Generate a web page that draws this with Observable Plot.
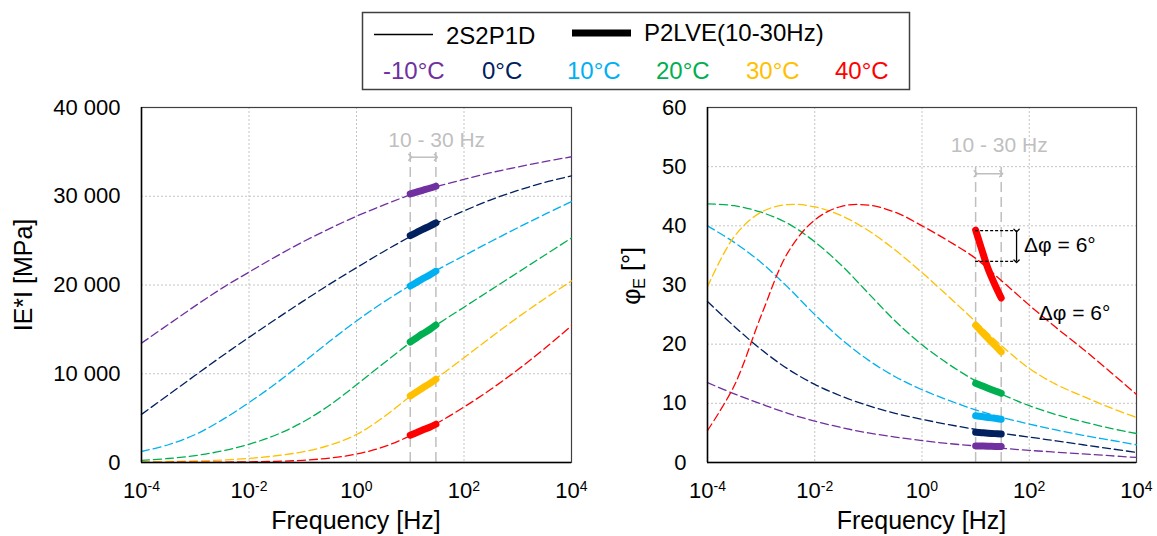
<!DOCTYPE html>
<html><head><meta charset="utf-8">
<script src="https://cdn.jsdelivr.net/npm/d3@7"></script>
<script src="https://cdn.jsdelivr.net/npm/@observablehq/plot@0.6"></script>
<style>
html,body{margin:0;padding:0;background:#fff;}
#wrap{position:relative;width:1157px;height:536px;overflow:hidden;font-family:'Liberation Sans',Arial,sans-serif;}
#wrap > svg{position:absolute;top:0;}
</style></head><body><div id="wrap"></div>
<script>
// ---------- data ----------
const temps  = ["-10°C", "0°C", "10°C", "20°C", "30°C", "40°C"];
const colors = ["#7030A0", "#002060", "#00B0F0", "#00B050", "#FFC000", "#FF0000"];

// 2S2P1D model curves, log10(frequency [Hz])
const logF = [-4, -3.5, -3, -2.5, -2, -1.5, -1, -0.5, 0, 0.5, 1, 1.5, 2, 2.5, 3, 3.5, 4];
// |E*| [MPa]
const modM10 = [13450, 15550, 17650, 19650, 21450, 23200, 24850, 26350, 27750, 29000, 30150, 31100, 31900, 32650, 33300, 33900, 34450];
const mod0   = [5420, 7620, 9820, 12000, 14100, 16150, 18150, 20100, 21950, 23750, 25450, 27000, 28350, 29600, 30650, 31550, 32300];
const mod10  = [1240, 2000, 3150, 4800, 6750, 8900, 11250, 13650, 15950, 18050, 19950, 21700, 23300, 24900, 26450, 27950, 29400];
const mod20  = [250, 450, 780, 1300, 2050, 3100, 4550, 6450, 8750, 11150, 13500, 15550, 17500, 19450, 21400, 23350, 25300];
const mod30  = [70, 110, 170, 280, 460, 760, 1200, 1950, 3150, 5100, 7450, 9550, 11800, 14100, 16350, 18450, 20450];
const mod40  = [20, 25, 35, 50, 75, 130, 250, 500, 950, 1750, 3000, 4450, 6250, 8250, 10450, 12850, 15400];
// phase angle [°]
const phM10 = [13.5, 11.6, 9.9, 8.3, 7.0, 5.9, 5.0, 4.3, 3.7, 3.2, 2.8, 2.4, 2.05, 1.75, 1.45, 1.15, 0.85];
const ph0   = [27.2, 23.0, 19.1, 15.8, 13.2, 11.2, 9.6, 8.3, 7.3, 6.4, 5.6, 4.9, 4.3, 3.65, 3.0, 2.35, 1.7];
const ph10  = [40.0, 37.2, 33.8, 29.6, 25.0, 20.8, 17.3, 14.5, 12.3, 10.5, 8.9, 7.6, 6.5, 5.5, 4.6, 3.8, 3.0];
const ph20  = [43.7, 43.4, 42.3, 40.4, 37.3, 33.3, 28.6, 23.9, 19.9, 16.6, 13.8, 11.5, 9.6, 8.1, 6.9, 5.8, 4.9];
const ph30  = [29.7, 38.2, 42.3, 43.6, 43.2, 41.7, 39.2, 35.9, 32.1, 28.0, 23.8, 19.6, 15.9, 13.2, 11.2, 9.3, 7.6];
const ph40  = [5.4, 13.0, 24.8, 35.5, 41.0, 43.3, 43.5, 42.3, 40.0, 37.4, 34.5, 30.6, 26.6, 22.8, 19.2, 15.4, 11.5];

// P2LVE (10-30 Hz) measured segments
const p2lveF = [10, 13, 17, 23, 30];
const pModM10 = [30260, 30460, 30670, 30900, 31125];
const pMod0   = [25560, 25900, 26260, 26640, 27000];
const pMod10  = [19880, 20280, 20700, 21130, 21560];
const pMod20  = [13575, 14030, 14500, 14990, 15490];
const pMod30  = [7500, 7940, 8400, 8880, 9375];
const pMod40  = [3075, 3360, 3650, 3970, 4310];
const pPhM10 = [2.8, 2.78, 2.75, 2.72, 2.7];
const pPh0   = [5.1, 5.03, 4.96, 4.88, 4.8];
const pPh10  = [7.9, 7.76, 7.62, 7.46, 7.3];
const pPh20  = [13.4, 12.98, 12.55, 12.1, 11.7];
const pPh30  = [23.2, 22.1, 21.0, 19.8, 18.7];
const pPh40  = [39.3, 36.0, 32.8, 30.0, 27.8];

// axes
const xTicks = [1e-4, 1e-2, 1, 1e2, 1e4];
const xGrid = [1e-2, 1, 1e2];
const modTicks = [0, 10000, 20000, 30000, 40000];
const phTicks = [0, 10, 20, 30, 40, 50, 60];
const band = [10, 30];

// annotations (data coordinates)
const modBandTop = 35000, modArrowY = 34400, modBandLabel = {f: 31, v: 36300, text: "10 - 30 Hz"};
const phBandTop = 50, phArrowY = 48.8, phBandLabel = {f: 27.5, v: 53.7, text: "10 - 30 Hz"};
const dPhiLevels = [39.2, 34.0];
const dPhiRuleEnd = 59, dPhiArrowF = 58;
const dPhiLabels = [{f: 80, v: 36.8, text: "Δφ = 6°"}, {f: 150, v: 25.3, text: "Δφ = 6°"}];

// ---------- build tables ----------
function rows(xs, series, isLog) {
  const out = [];
  series.forEach((vals, i) => vals.forEach((v, j) => out.push({temp: temps[i], f: isLog ? Math.pow(10, xs[j]) : xs[j], v})));
  return out;
}
const modRows = rows(logF, [modM10, mod0, mod10, mod20, mod30, mod40], true);
const phRows  = rows(logF, [phM10, ph0, ph10, ph20, ph30, ph40], true);
const pModRows = rows(p2lveF, [pModM10, pMod0, pMod10, pMod20, pMod30, pMod40], false);
const pPhRows  = rows(p2lveF, [pPhM10, pPh0, pPh10, pPh20, pPh30, pPh40], false);

const font = "'Liberation Sans', Arial, sans-serif";
const fmt = d3.formatLocale({decimal: ".", thousands: " ", grouping: [3], currency: ["", ""]}).format(",");
const gridStyle = {stroke: "#c4c4c4", strokeOpacity: 1, strokeDasharray: "2,2", strokeWidth: 1};
const gray = "#bfbfbf";

function basePanel({width, marginLeft, marginRight, yDomain, yTicks, yFmt, curves, thick, extra}) {
  return Plot.plot({
    width, height: 536, marginLeft, marginRight, marginTop: 107, marginBottom: 74,
    style: {fontFamily: font, fontSize: "22px", color: "#000", background: "transparent", overflow: "visible"},
    x: {type: "log", domain: [1e-4, 1e4]},
    y: {domain: yDomain},
    color: {domain: temps, range: colors},
    marks: [
      Plot.gridX(xGrid, gridStyle),
      Plot.gridY(yTicks.slice(1, -1), gridStyle),
      Plot.frame({stroke: "#404040", strokeWidth: 1.2}),
      ...extra.before,
      Plot.line(curves, {x: "f", y: "v", z: "temp", stroke: "temp", strokeWidth: 1.3, strokeDasharray: "8,4", curve: "catmull-rom"}),
      Plot.line(thick, {x: "f", y: "v", z: "temp", stroke: "temp", strokeWidth: 7, strokeLinecap: "round", strokeLinejoin: "round", curve: "catmull-rom"}),
      ...extra.after,
      Plot.ruleX([1e-4], {stroke: "#000", strokeWidth: 1.5}),
      Plot.ruleY([yDomain[0]], {stroke: "#000", strokeWidth: 1.5}),
      Plot.axisX(xTicks, {tickSize: 0, tickPadding: 20, tickFormat: d => String(Math.round(Math.log10(d))), label: null, fontSize: 22}),
      Plot.axisY(yTicks, {tickSize: 0, tickPadding: 21, tickFormat: yFmt, label: null, fontSize: 22})
    ]
  });
}

const leftPlot = basePanel({
  width: 580, marginLeft: 141, marginRight: 9,
  yDomain: [0, 40000], yTicks: modTicks, yFmt: fmt,
  curves: modRows, thick: pModRows,
  extra: {
    before: [
      Plot.ruleX(band, {y1: 0, y2: modBandTop, stroke: gray, strokeWidth: 1.5, strokeDasharray: "10,5"}),
      Plot.link([{a: band[0], b: band[1], y: modArrowY}], {x1: "a", x2: "b", y1: "y", y2: "y", stroke: gray, strokeWidth: 1.5, markerStart: "arrow", markerEnd: "arrow"}),
      Plot.text([modBandLabel], {x: "f", y: "v", text: "text", fill: gray, fontSize: 21})
    ],
    after: []
  }
});

const rightPlot = basePanel({
  width: 577, marginLeft: 127, marginRight: 21,
  yDomain: [0, 60], yTicks: phTicks, yFmt: d => String(d),
  curves: phRows, thick: pPhRows,
  extra: {
    before: [
      Plot.ruleX(band, {y1: 0, y2: phBandTop, stroke: gray, strokeWidth: 1.5, strokeDasharray: "10,5"}),
      Plot.link([{a: band[0], b: band[1], y: phArrowY}], {x1: "a", x2: "b", y1: "y", y2: "y", stroke: gray, strokeWidth: 1.5, markerStart: "arrow", markerEnd: "arrow"}),
      Plot.text([phBandLabel], {x: "f", y: "v", text: "text", fill: gray, fontSize: 21})
    ],
    after: [
      Plot.ruleY(dPhiLevels, {x1: band[0], x2: dPhiRuleEnd, stroke: "#000", strokeWidth: 1.2, strokeDasharray: "3,2"}),
      Plot.link([{f: dPhiArrowF, a: dPhiLevels[0], b: dPhiLevels[1]}], {x1: "f", x2: "f", y1: "a", y2: "b", stroke: "#000", strokeWidth: 1.3, markerStart: "arrow", markerEnd: "arrow"}),
      Plot.text(dPhiLabels, {x: "f", y: "v", text: "text", textAnchor: "start", fill: "#000", fontSize: 21})
    ]
  }
});

// superscript exponents on x tick labels
function superscript(svg) {
  d3.select(svg).selectAll('g[aria-label="x-axis tick label"] text').each(function () {
    const exp = this.textContent;
    const t = d3.select(this);
    t.text(null);
    t.append("tspan").text("10");
    t.append("tspan").attr("dy", "-7").attr("font-size", "14px").text(exp);
  });
}
superscript(leftPlot);
superscript(rightPlot);

const wrap = document.getElementById("wrap");
leftPlot.style.left = "0px";
rightPlot.style.left = "580px";
wrap.appendChild(leftPlot);
wrap.appendChild(rightPlot);

// ---------- legend & axis titles overlay ----------
const ov = d3.select(wrap).append("svg").attr("width", 1157).attr("height", 536)
  .style("left", "0px").style("pointer-events", "none")
  .attr("font-family", font);

ov.append("rect").attr("x", 362.5).attr("y", 12.5).attr("width", 547).attr("height", 77)
  .attr("fill", "#fff").attr("stroke", "#404040").attr("stroke-width", 1.5);
ov.append("line").attr("x1", 374).attr("x2", 433).attr("y1", 34.5).attr("y2", 34.5).attr("stroke", "#000").attr("stroke-width", 1.3);
ov.append("text").attr("x", 446).attr("y", 43.5).attr("font-size", 24).text("2S2P1D");
ov.append("line").attr("x1", 572).attr("x2", 631).attr("y1", 33).attr("y2", 33).attr("stroke", "#000").attr("stroke-width", 7);
ov.append("text").attr("x", 644).attr("y", 41).attr("font-size", 24).text("P2LVE(10-30Hz)");
const legX = [383, 482, 567, 656, 746, 835];
temps.forEach((t, i) => ov.append("text").attr("x", legX[i]).attr("y", 79).attr("font-size", 24).attr("fill", colors[i]).text(t));

// axis titles
ov.append("text").attr("transform", "translate(32,275) rotate(-90)").attr("text-anchor", "middle").attr("font-size", 25).text("IE*I [MPa]");
const phT = ov.append("text").attr("transform", "translate(640,276) rotate(-90)").attr("text-anchor", "middle").attr("font-size", 25);
phT.append("tspan").text("φ");
phT.append("tspan").attr("font-size", 16).attr("dy", 5).text("E");
phT.append("tspan").attr("dy", -5).text(" [°]");
ov.append("text").attr("x", 356).attr("y", 529).attr("text-anchor", "middle").attr("font-size", 25).text("Frequency [Hz]");
ov.append("text").attr("x", 921.5).attr("y", 529).attr("text-anchor", "middle").attr("font-size", 25).text("Frequency [Hz]");
</script></body></html>
